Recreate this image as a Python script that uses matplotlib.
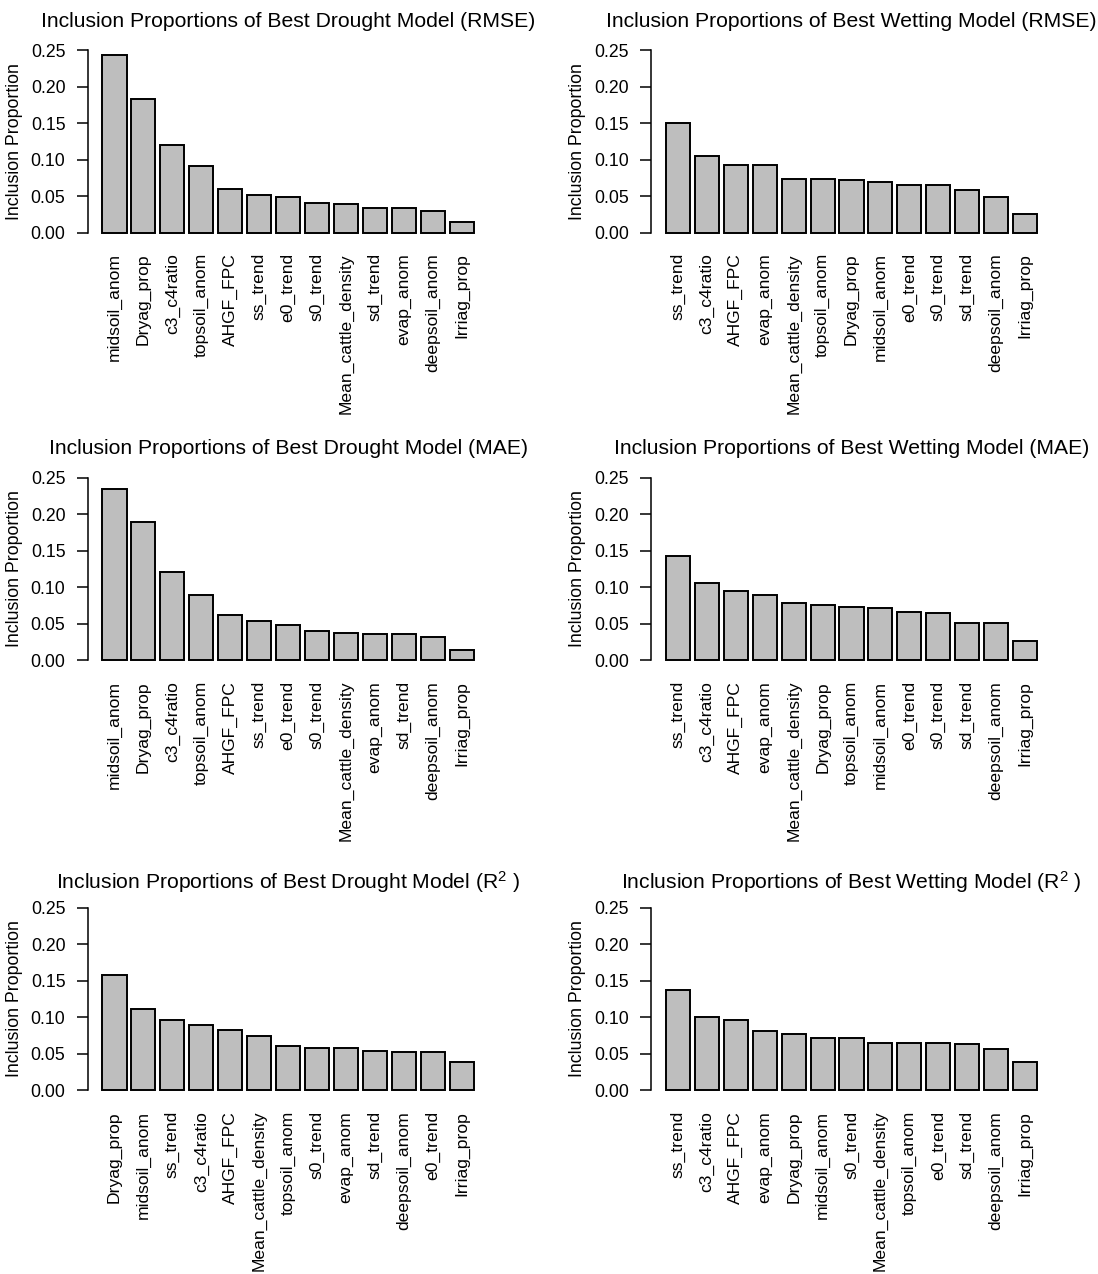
import numpy as np
from matplotlib import pyplot as plt

plt.rcParams['font.family'] = ['Liberation Sans', 'DejaVu Sans']
plt.rcParams['mathtext.default'] = 'regular'

#variable names (ordered as plotted) and inclusion proportions for each panel
drought_rmse_names = ['midsoil_anom', 'Dryag_prop', 'c3_c4ratio', 'topsoil_anom', 'AHGF_FPC', 'ss_trend',
                      'e0_trend', 's0_trend', 'Mean_cattle_density', 'sd_trend', 'evap_anom', 'deepsoil_anom',
                      'Irriag_prop']
drought_rmse_vals = [0.243, 0.183, 0.1195, 0.091, 0.060, 0.052, 0.049, 0.041, 0.0386, 0.034, 0.034, 0.0295, 0.0145]

wetting_rmse_names = ['ss_trend', 'c3_c4ratio', 'AHGF_FPC', 'evap_anom', 'Mean_cattle_density', 'topsoil_anom',
                      'Dryag_prop', 'midsoil_anom', 'e0_trend', 's0_trend', 'sd_trend', 'deepsoil_anom',
                      'Irriag_prop']
wetting_rmse_vals = [0.150, 0.1045, 0.093, 0.093, 0.0736, 0.0736, 0.0718, 0.069, 0.0655, 0.0655, 0.058, 0.049, 0.0255]

drought_mae_names = ['midsoil_anom', 'Dryag_prop', 'c3_c4ratio', 'topsoil_anom', 'AHGF_FPC', 'ss_trend',
                     'e0_trend', 's0_trend', 'Mean_cattle_density', 'evap_anom', 'sd_trend', 'deepsoil_anom',
                     'Irriag_prop']
drought_mae_vals = [0.235, 0.189, 0.121, 0.089, 0.062, 0.0534, 0.049, 0.0403, 0.038, 0.0358, 0.0358, 0.0317, 0.0145]

wetting_mae_names = ['ss_trend', 'c3_c4ratio', 'AHGF_FPC', 'evap_anom', 'Mean_cattle_density', 'Dryag_prop',
                     'topsoil_anom', 'midsoil_anom', 'e0_trend', 's0_trend', 'sd_trend', 'deepsoil_anom',
                     'Irriag_prop']
wetting_mae_vals = [0.1427, 0.106, 0.0947, 0.089, 0.0779, 0.0756, 0.0729, 0.0711, 0.0666, 0.0643, 0.0512, 0.0512, 0.027]

drought_r2_names = ['Dryag_prop', 'midsoil_anom', 'ss_trend', 'c3_c4ratio', 'AHGF_FPC', 'Mean_cattle_density',
                    'topsoil_anom', 's0_trend', 'evap_anom', 'sd_trend', 'deepsoil_anom', 'e0_trend',
                    'Irriag_prop']
drought_r2_vals = [0.1576, 0.111, 0.096, 0.0897, 0.0829, 0.0742, 0.061, 0.0583, 0.0583, 0.0542, 0.0519, 0.0519, 0.0392]

wetting_r2_names = ['ss_trend', 'c3_c4ratio', 'AHGF_FPC', 'evap_anom', 'Dryag_prop', 'midsoil_anom', 's0_trend',
                    'Mean_cattle_density', 'topsoil_anom', 'e0_trend', 'sd_trend', 'deepsoil_anom',
                    'Irriag_prop']
wetting_r2_vals = [0.138, 0.1006, 0.096, 0.0806, 0.0765, 0.0715, 0.0715, 0.0651, 0.0651, 0.0651, 0.0633, 0.0565, 0.0392]

titles = ['Inclusion Proportions of Best Drought Model (RMSE)',
          'Inclusion Proportions of Best Wetting Model (RMSE)',
          'Inclusion Proportions of Best Drought Model (MAE)',
          'Inclusion Proportions of Best Wetting Model (MAE)',
          'Inclusion Proportions of Best Drought Model (R$^{2}$ )',
          'Inclusion Proportions of Best Wetting Model (R$^{2}$ )']
panels = [(drought_rmse_names, drought_rmse_vals), (wetting_rmse_names, wetting_rmse_vals),
          (drought_mae_names, drought_mae_vals), (wetting_mae_names, wetting_mae_vals),
          (drought_r2_names, drought_r2_vals), (wetting_r2_names, wetting_r2_vals)]

W, H = 1098, 1274
fig = plt.figure(figsize=(W / 100, H / 100), dpi=100)

#axes placement in pixels: left edge per column, top edge per row
col_left = [87.6, 651]
row_top = [42.7, 470.4, 900.4]
ax_w, ax_h = 401, 197.3

for k, (names, vals) in enumerate(panels):
    r, c = divmod(k, 2)
    ax = fig.add_axes([col_left[c] / W, 1 - (row_top[r] + ax_h) / H, ax_w / W, ax_h / H])
    x = 0.7 + 1.2 * np.arange(len(vals))
    ax.bar(x, vals, width=1.0, color='#bebebe', edgecolor='black', linewidth=1.4)
    ax.set_xlim(-0.416, 16.216)
    ax.set_ylim(-0.01, 0.26)
    for s in ['top', 'right', 'bottom']:
        ax.spines[s].set_visible(False)
    ax.spines['left'].set_bounds(0, 0.25)
    ax.spines['left'].set_linewidth(1.1)
    ax.set_yticks([0, 0.05, 0.10, 0.15, 0.20, 0.25])
    ax.set_yticklabels(['0.00', '0.05', '0.10', '0.15', '0.20', '0.25'])
    ax.tick_params(axis='y', direction='out', length=8, width=1.1, labelsize=12.7, pad=8)
    ax.set_xticks(x)
    ax.set_xticklabels(names, rotation=90)
    ax.tick_params(axis='x', length=0, labelsize=12.6, pad=9.5)
    ax.set_ylabel('Inclusion Proportion', fontsize=12.8)
    ax.yaxis.set_label_coords(-0.161, 0.5)
    ax.set_title(titles[k], fontsize=15.2, pad=8.5 if r == 2 else 11.5)

fig.savefig('out.png', dpi=100)
